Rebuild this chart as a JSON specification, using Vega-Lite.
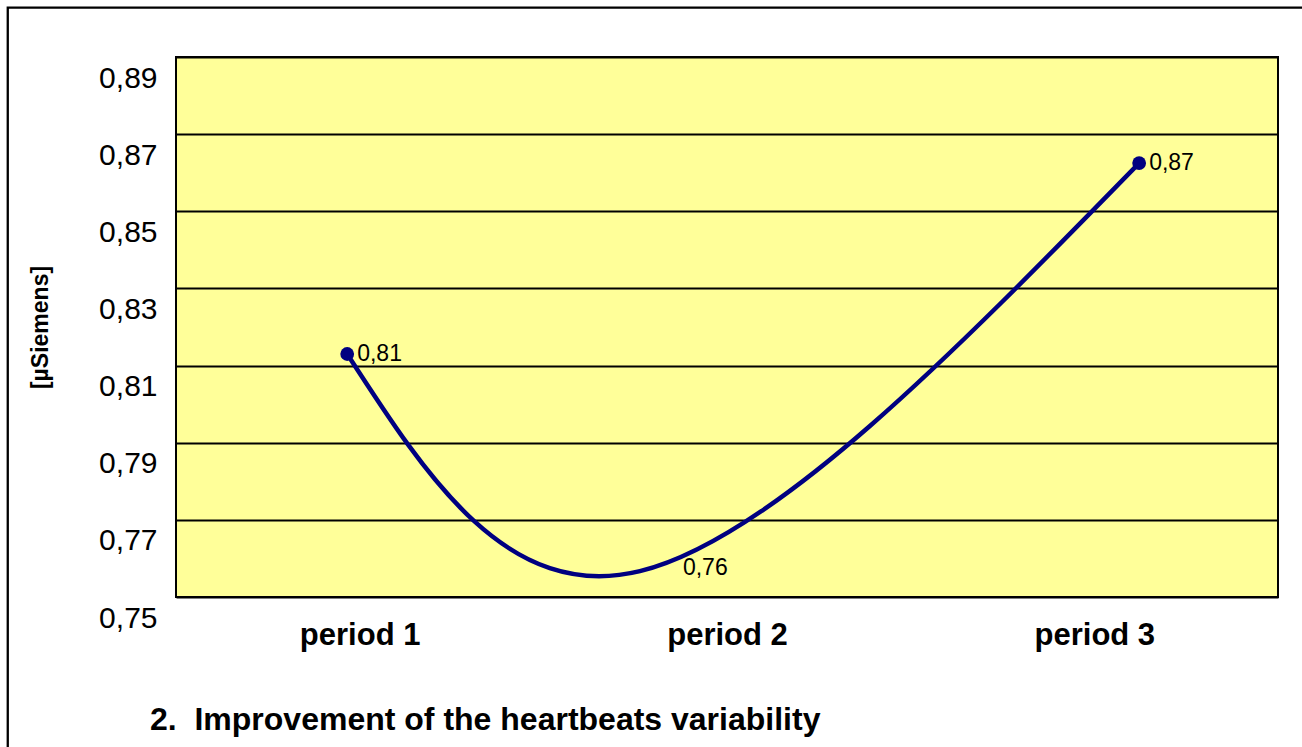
{
  "$schema": "https://vega.github.io/schema/vega-lite/v6.json",
  "width": 1102,
  "height": 540,
  "autosize": {"type": "none"},
  "padding": {"left": 176, "top": 57, "right": 24, "bottom": 150},
  "background": "white",
  "config": {
    "font": "Liberation Sans",
    "view": {"fill": "#FFFF99", "stroke": "black", "strokeWidth": 2}
  },
  "title": {
    "text": "2.\u00a0\u00a0Improvement of the heartbeats variability",
    "orient": "bottom",
    "anchor": "start",
    "frame": "group",
    "dx": -26,
    "offset": -86,
    "fontSize": 32,
    "fontWeight": "bold",
    "color": "black",
    "font": "Liberation Sans"
  },
  "data": {
    "values": [
      {"period": 0.966, "value": 0.813, "label": "0,81", "name": "period 1"},
      {"period": 1.763, "value": 0.7567, "label": "0,76", "name": "period 2"},
      {"period": 3.122, "value": 0.8625, "label": "0,87", "name": "period 3"}
    ]
  },
  "encoding": {
    "x": {
      "field": "period",
      "type": "quantitative",
      "scale": {"domain": [0.5, 3.5], "nice": false, "zero": false},
      "axis": {
        "values": [1, 2, 3],
        "labelExpr": "'period ' + datum.value",
        "title": null,
        "grid": false,
        "ticks": false,
        "domain": false,
        "labelFontSize": 31,
        "labelFontWeight": "bold",
        "labelPadding": 23,
        "labelColor": "black"
      }
    },
    "y": {
      "field": "value",
      "type": "quantitative",
      "scale": {"domain": [0.75, 0.89], "nice": false, "zero": false},
      "axis": {
        "values": [0.75, 0.77, 0.79, 0.81, 0.83, 0.85, 0.87, 0.89],
        "labelExpr": "replace(format(datum.value, '.2f'), '.', ',')",
        "title": "[µSiemens]",
        "grid": true,
        "gridColor": "black",
        "gridWidth": 2,
        "gridOpacity": 1,
        "ticks": false,
        "domain": false,
        "labelFontSize": 30,
        "labelPadding": 19,
        "labelOffset": 21,
        "labelColor": "black",
        "titleFontSize": 23,
        "titleFontWeight": "bold",
        "titleColor": "black",
        "titlePadding": 46
      }
    }
  },
  "layer": [
    {
      "transform": [{"filter": "datum.name == 'period 1'"}],
      "mark": {"type": "rect", "clip": false, "filled": false, "color": "black", "stroke": "black", "strokeWidth": 2.3, "opacity": 1},
      "encoding": {
        "x": {"datum": 0.042},
        "x2": {"datum": 3.65},
        "y": {"datum": 0.9028},
        "y2": {"datum": 0.70}
      }
    },
    {"mark": {"type": "line", "interpolate": "natural", "color": "#000080", "strokeWidth": 4.5}},
    {
      "transform": [{"filter": "datum.name != 'period 2'"}],
      "mark": {"type": "circle", "color": "#000080", "opacity": 1, "size": 190}
    },
    {
      "transform": [{"filter": "datum.name != 'period 2'"}],
      "mark": {"type": "text", "align": "left", "baseline": "middle", "dx": 10, "fontSize": 23, "color": "black"},
      "encoding": {"text": {"field": "label"}}
    },
    {
      "transform": [{"filter": "datum.name == 'period 2'"}],
      "mark": {"type": "text", "align": "left", "baseline": "middle", "dx": 43, "dy": -3, "fontSize": 23, "color": "black"},
      "encoding": {"text": {"field": "label"}}
    }
  ]
}
